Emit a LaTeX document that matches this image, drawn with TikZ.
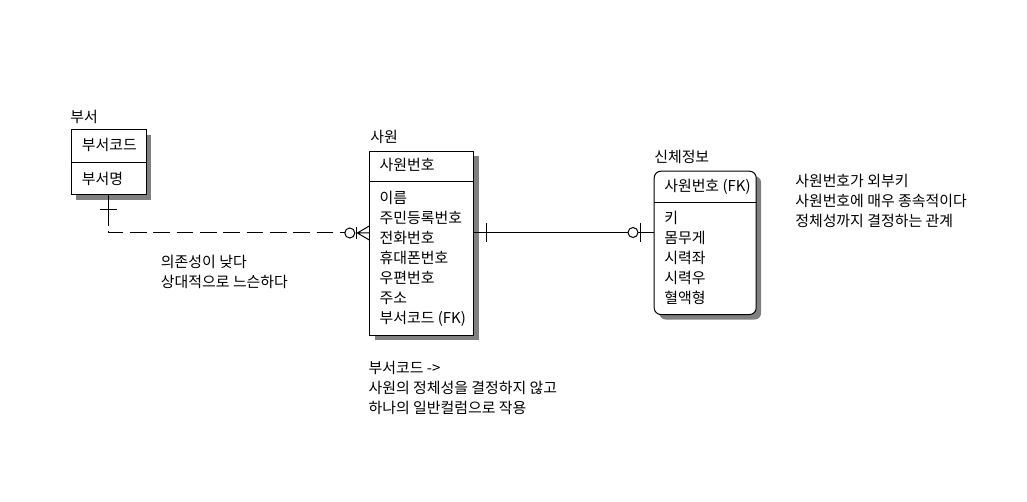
\documentclass[tikz,border=0pt]{standalone}
\usepackage{fontspec}
\setmainfont{Noto Sans CJK KR}
\usetikzlibrary{
    positioning,
    calc,
    shadows
}

\begin{document}
\begin{tikzpicture}[
        x=0.75pt, y=-0.75pt,
        entity/.style={rectangle, draw, line width=0.75pt, fill=white, anchor=north west,
            drop shadow={shadow xshift=3.75pt, shadow yshift=-3.75pt, fill=black!50, opacity=1}},
        txt/.style={inner sep=0pt, anchor=west, align=left, font=\fontsize{11.2}{15}\selectfont},
        rel/.style={line width=0.75pt}
    ]
        \useasboundingbox[fill=white] (0,0) rectangle (1027,502);

        % entities
        \node[entity, minimum width=56.25pt, minimum height=48.75pt] (dept) at (70.7,129.3) {};
        \node[entity, minimum width=78pt, minimum height=138.2pt] (emp) at (369.3,150.7) {};
        \node[entity, rounded corners=5pt, minimum width=76.5pt, minimum height=107.5pt] (body) at (653.7,170.7) {};

        \draw[rel] ($(dept.north west)+(0,33)$) -- ($(dept.north east)+(0,33)$);
        \draw[rel] ($(emp.north west)+(0,31.3)$) -- ($(emp.north east)+(0,31.3)$);
        \draw[rel] ($(body.north west)+(0,32)$) -- ($(body.north east)+(0,32)$);

        % titles
        \node[txt] (depttitle) at ($(dept.north west)+(-0.7,-12.3)$) {부서};
        \node[txt] (emptitle) at ($(emp.north west)+(0.7,-14)$) {사원};
        \node[txt] (bodytitle) at ($(body.north west)+(0.3,-14)$) {신체정보};

        % attributes
        \node[txt] (deptkey) at ($(dept.north west)+(11,15.7)$) {부서코드};
        \node[txt] (deptattr) at ($(dept.north west)+(11,49.7)$) {부서명};
        \node[txt] (empkey) at ($(emp.north west)+(10,14.3)$) {사원번호};
        \node[txt] (empattr) at ($(emp.north west)+(10,108.5)$) {이름\\주민등록번호\\전화번호\\휴대폰번호\\우편번호\\주소\\부서코드 (FK)};
        \node[txt] (bodykey) at ($(body.north west)+(10.3,16)$) {사원번호 (FK)};
        \node[txt] (bodyattr) at ($(body.north west)+(10.3,86.8)$) {키\\몸무게\\시력좌\\시력우\\혈액형};

        % dept -- emp (non-identifying)
        \coordinate (e1) at ($(emp.north west)+(0,82.3)$);
        \draw[rel] (dept.south) -- ++(0,31);
        \draw[rel] ($(dept.south)+(-9,14)$) -- ++(17.5,0);
        \draw[rel, dash pattern=on 12.5pt off 5pt] ($(dept.south)+(0,35.7)$) |- ($(e1)+(-24.5,0)$);
        \draw[rel] ($(e1)+(-19.5,0)$) circle[radius=5];
        \draw[rel] ($(e1)+(-13.3,-6)$) -- ++(0,12);
        \draw[rel] ($(e1)+(-12,0)$) -- ($(e1)+(0,-7)$)
                   ($(e1)+(-12,0)$) -- (e1)
                   ($(e1)+(-12,0)$) -- ($(e1)+(0,7)$);

        % emp -- body (identifying)
        \coordinate (e2) at ($(emp.north east)+(0,81.8)$);
        \coordinate (b2) at (body.west |- e2);
        \draw[rel] (e2) -- ($(b2)+(-25.7,0)$);
        \draw[rel] ($(b2)+(-15.7,0)$) -- (b2);
        \draw[rel] ($(e2)+(11.7,-9.5)$) -- ++(0,19);
        \draw[rel] ($(b2)+(-20.7,0)$) circle[radius=5];
        \draw[rel] ($(b2)+(-13,-9.5)$) -- ++(0,19);

        % notes
        \node[txt] (note1) at (160.7,271.7) {의존성이 낮다\\상대적으로 느슨하다};
        \node[txt] (note2) at (368.3,388.3) {부서코드 ->\\사원의 정체성을 결정하지 않고\\하나의 일반컬럼으로 작용};
        \node[txt] (note3) at (795,200.7) {사원번호가 외부키\\사원번호에 매우 종속적이다\\정체성까지 결정하는 관계};
    \end{tikzpicture}
\end{document}
